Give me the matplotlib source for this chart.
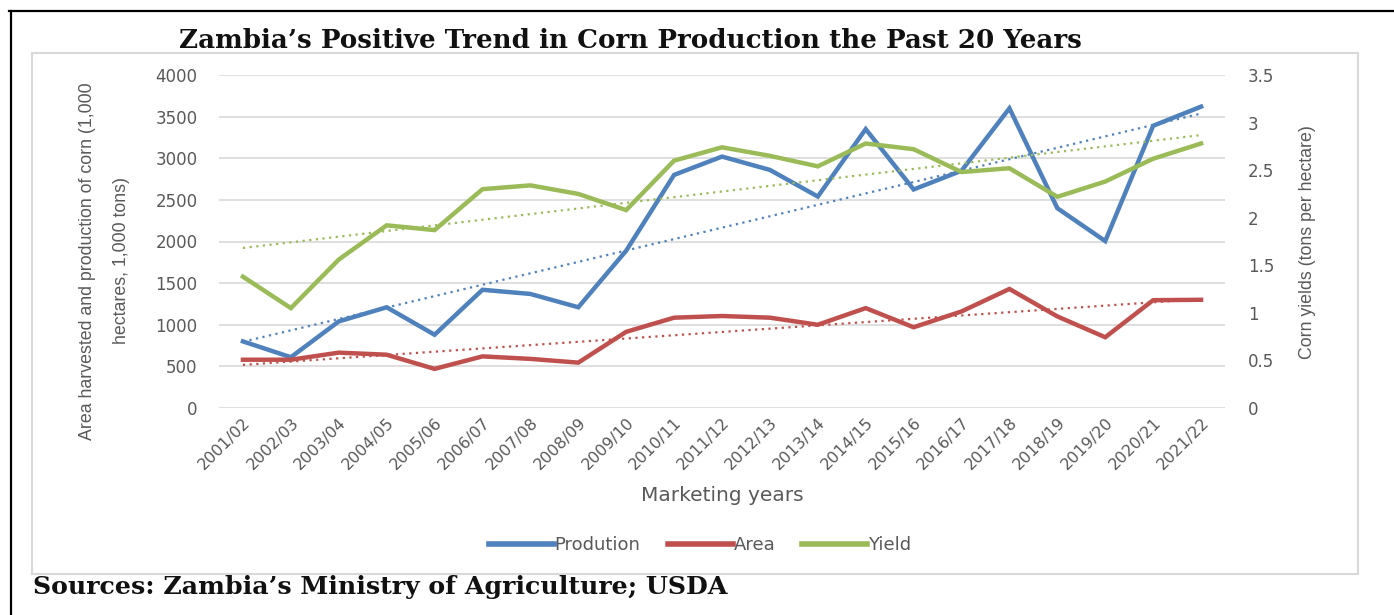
import numpy as np
import matplotlib
matplotlib.use("Agg")
import matplotlib.pyplot as plt
from matplotlib.lines import Line2D
from matplotlib.patches import Rectangle

YEARS = ["2001/02", "2002/03", "2003/04", "2004/05", "2005/06", "2006/07",
         "2007/08", "2008/09", "2009/10", "2010/11", "2011/12", "2012/13",
         "2013/14", "2014/15", "2015/16", "2016/17", "2017/18", "2018/19",
         "2019/20", "2020/21", "2021/22"]
# 1,000 tons
PRODUCTION = [800, 610, 1040, 1210, 880, 1420, 1370, 1210, 1890, 2800, 3020,
              2860, 2540, 3350, 2625, 2850, 3600, 2400, 2005, 3390, 3620]
# 1,000 hectares
AREA = [580, 580, 665, 640, 470, 620, 590, 545, 915, 1085, 1105, 1085, 1000,
        1200, 970, 1160, 1430, 1100, 850, 1295, 1300]
# tons per hectare
YIELD = [1.38, 1.05, 1.56, 1.92, 1.87, 2.30, 2.34, 2.25, 2.08, 2.60, 2.74,
         2.65, 2.54, 2.78, 2.72, 2.48, 2.52, 2.22, 2.38, 2.62, 2.78]

LEFT_TICKS = [0, 500, 1000, 1500, 2000, 2500, 3000, 3500, 4000]
RIGHT_TICKS = [0, 0.5, 1, 1.5, 2, 2.5, 3, 3.5]
RIGHT_LABELS = ["0", "0.5", "1", "1.5", "2", "2.5", "3", "3.5"]

BLUE, RED, GREEN = "#4f81bd", "#c0504d", "#9bbb59"
GREY = "#595959"
SANS = ["DejaVu Sans"]
SERIF = ["DejaVu Serif"]

W, H = 1394, 615
fig = plt.figure(figsize=(W / 100, H / 100), dpi=100, facecolor="white")

# outer frame (top and left edges) and light chart box
fig.add_artist(Line2D([9 / W, 1.0], [1 - 11 / H, 1 - 11 / H], color="black", lw=1.6))
fig.add_artist(Line2D([11 / W, 11 / W], [0, 1 - 11 / H], color="black", lw=1.6))
fig.add_artist(Rectangle((32 / W, 1 - 574 / H), (1358 - 32) / W, (574 - 53) / H,
                         fill=False, edgecolor="#d9d9d9", lw=1.5))

ax = fig.add_axes([219 / W, 1 - 408 / H, (1225 - 219) / W, (408 - 75) / H])
ax2 = ax.twinx()

x = np.arange(len(YEARS))

def trend(vals):
    k, b = np.polyfit(x, vals, 1)
    return k * x + b

ax.plot(x, trend(PRODUCTION), color=BLUE, lw=1.6, ls=(0, (1, 2)), zorder=2)
ax.plot(x, trend(AREA), color=RED, lw=1.6, ls=(0, (1, 2)), zorder=2)
ax2.plot(x, trend(YIELD), color=GREEN, lw=1.6, ls=(0, (1, 2)), zorder=2)

ax.plot(x, PRODUCTION, color=BLUE, lw=3.2, solid_joinstyle="miter", zorder=3)
ax.plot(x, AREA, color=RED, lw=3.2, solid_joinstyle="miter", zorder=3)
ax2.plot(x, YIELD, color=GREEN, lw=3.2, solid_joinstyle="miter", zorder=3)

ax.set_xlim(-0.5, len(YEARS) - 0.5)
ax.set_ylim(0, 4000)
ax2.set_ylim(0, 3.5)
ax.set_yticks(LEFT_TICKS)
ax.set_yticklabels([str(v) for v in LEFT_TICKS], fontsize=12, color=GREY, family=SANS)
ax2.set_yticks(RIGHT_TICKS)
ax2.set_yticklabels(RIGHT_LABELS, fontsize=12, color=GREY, family=SANS)
ax.set_xticks(x)
ax.set_xticklabels(YEARS, rotation=45, ha="right", rotation_mode="anchor",
                   fontsize=11.5, color=GREY, family=SANS)
ax.tick_params(axis="y", length=0, pad=15.5)
ax.tick_params(axis="x", length=0, pad=5)
ax2.tick_params(axis="y", length=0, pad=16.5)
ax.grid(axis="y", color="#d9d9d9", lw=1.2)
ax.set_axisbelow(True)
for a in (ax, ax2):
    for s in a.spines.values():
        s.set_visible(False)

ax.set_ylabel("Area harvested and production of corn (1,000\nhectares, 1,000 tons)",
              fontsize=12.8, color=GREY, family=["Liberation Sans"], linespacing=2.3)
ax.yaxis.set_label_coords((130 - 219) / 1006, (408 - 261) / 333)
ax2.set_ylabel("Corn yields (tons per hectare)", fontsize=12.8, color=GREY,
               family=["Liberation Sans"])
ax2.yaxis.set_label_coords((1299 - 219) / 1006, (408 - 242) / 333)
ax.set_xlabel("Marketing years", fontsize=14.5, color=GREY, family=SANS, labelpad=10)

handles = [Line2D([], [], color=c, lw=4) for c in (BLUE, RED, GREEN)]
leg = fig.legend(handles, ["Prodution", "Area", "Yield"], loc="center",
                 bbox_to_anchor=(700 / W, 1 - 545 / H), ncol=3, frameon=False,
                 handlelength=3.6, handletextpad=0.05, columnspacing=1.5,
                 prop={"family": SANS, "size": 13})
for t in leg.get_texts():
    t.set_color(GREY)

fig.text(630 / W, 1 - 41 / H, "Zambia\u2019s Positive Trend in Corn Production the Past 20 Years",
         ha="center", va="center", fontsize=18.8, fontweight="bold", family=SERIF,
         color="#111111")
fig.text(33 / W, 1 - 587 / H, "Sources: Zambia\u2019s Ministry of Agriculture; USDA",
         ha="left", va="center", fontsize=18.2, fontweight="bold", family=SERIF,
         color="#111111")

fig.savefig("out.png", dpi=100, facecolor="white")
